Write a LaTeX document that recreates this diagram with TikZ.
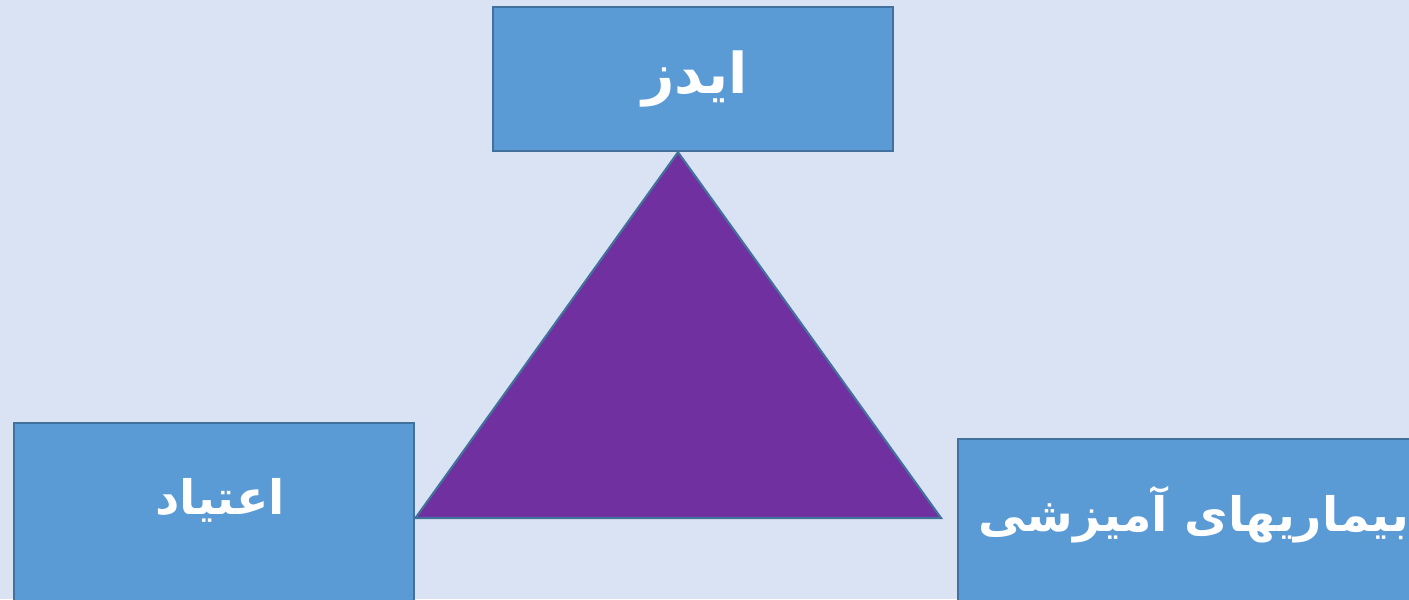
\documentclass[tikz,border=0pt]{standalone}
\usepackage{fontspec}
\usetikzlibrary{positioning}
\newfontfamily\arabicfont[Script=Arabic]{DejaVu Sans}
\TeXXeTstate=1
\definecolor{slidebg}{HTML}{DAE3F3}
\definecolor{boxblue}{HTML}{5B9BD5}
\definecolor{boxline}{HTML}{41719C}
\definecolor{trigpurple}{HTML}{7030A0}
\tikzset{
  topic/.style={
    shape = rectangle,
    draw = boxline,
    fill = boxblue,
    line width = 0.7pt,
    minimum width = 4cm,
    minimum height = 1.44cm,
    inner sep = 0pt
  },
  topictext/.style={
    text = white,
    inner sep = 0pt,
    font = \arabicfont\bfseries\fontsize{13.5}{16}\selectfont
  },
  trig/.style={
    fill = trigpurple,
    draw = boxline,
    line width = 0.6pt,
    line join = miter
  }
}
\begin{document}
\begin{tikzpicture}
    \def\W{14.09}
    \def\H{5.99}
    \useasboundingbox (0,0) rectangle (\W,\H);
    \fill[slidebg] (0,0) rectangle (\W,\H);
    \clip (0,0) rectangle (\W,\H);
    % boxes
    \node[topic] (aids) at (6.93,5.20) {};
    \node[topic, minimum height=2.4cm, anchor=north west] (addict) at (0.13,1.77) {};
    \node[topic, minimum width=5cm, minimum height=2.4cm, anchor=north west] (std) at (9.57,1.61) {};
    % labels
    \node[topictext, font=\arabicfont\bfseries\fontsize{16}{19}\selectfont] (aidstxt) at (6.95,5.20) {\beginR ایدز\endR};
    \node[topictext] (addicttxt) at (2.20,0.99) {\beginR اعتیاد\endR};
    \node[topictext] (stdtxt) at (11.94,0.84) {\beginR بیماریهای آمیزشی\endR};
    % triangle
    \coordinate (apex) at (aids.south -| 6.78,0);
    \coordinate (lft) at (addict.east |- 0,0.81);
    \coordinate (rgt) at (9.41,0.81);
    \draw[trig] (apex) -- (rgt) -- (lft) -- cycle;
\end{tikzpicture}
\end{document}
